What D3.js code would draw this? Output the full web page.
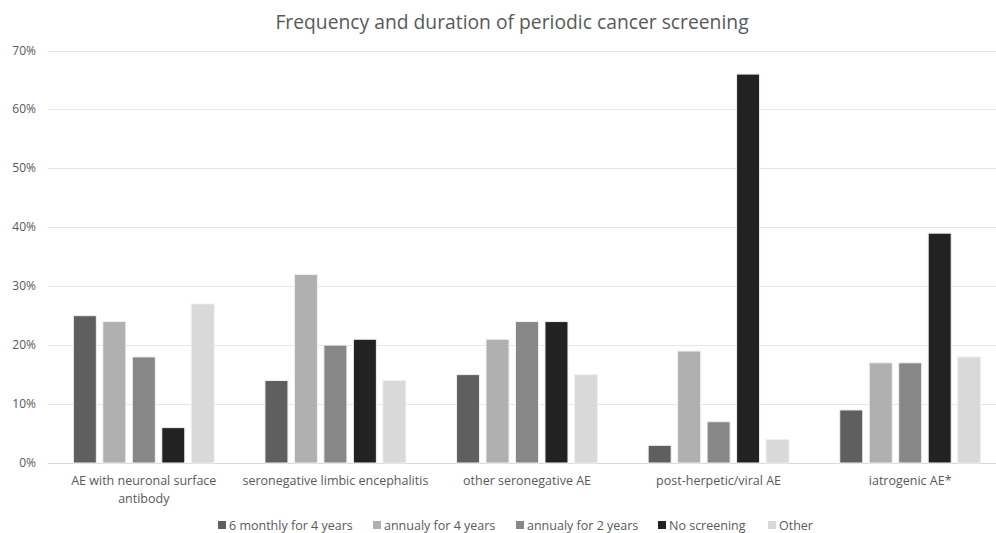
<!DOCTYPE html>
<html><head><meta charset="utf-8">
<script src="https://cdn.jsdelivr.net/npm/d3@7"></script>
<style>body{margin:0;background:#fff;} text{font-family:"Open Sans","Noto Sans",sans-serif;}</style>
</head><body><svg id="c" width="996" height="533"></svg>
<script>
const categories = [["AE with neuronal surface","antibody"],["seronegative limbic encephalitis"],["other seronegative AE"],["post-herpetic/viral AE"],["iatrogenic AE*"]];
const seriesNames = ["6 monthly for 4 years","annualy for 4 years","annualy for 2 years","No screening","Other"];
const seriesColors = ["#5f5f5f","#b0b0b0","#878787","#222222","#d9d9d9"];
const s6monthly4 = [25,14,15,3,9];
const sAnnual4 = [24,32,21,19,17];
const sAnnual2 = [18,20,24,7,17];
const sNone = [6,21,24,66,39];
const sOther = [27,14,15,4,18];
const yTicks = [0,10,20,30,40,50,60,70];
const values = [s6monthly4,sAnnual4,sAnnual2,sNone,sOther];

const svg = d3.select("#c");
const x0 = d3.scaleBand().domain(d3.range(categories.length)).range([48,1006]).paddingInner(0).paddingOuter(0);
const x1 = d3.scaleBand().domain(d3.range(seriesNames.length)).range([0,x0.bandwidth()]).paddingInner(0.22).paddingOuter(0.86);
const y = d3.scaleLinear().domain([0,70]).range([463,50.5]);

svg.append("text").attr("x",512).attr("y",29).attr("text-anchor","middle").attr("fill","#595959").style("font-size","19.3px").text("Frequency and duration of periodic cancer screening");

const g = svg.append("g");
g.selectAll("line.grid").data(yTicks).enter().append("line")
  .attr("x1",48).attr("x2",996).attr("y1",d=>Math.round(y(d))+0.5).attr("y2",d=>Math.round(y(d))+0.5)
  .attr("stroke",d=>d===0?"#d9d9d9":"#e6e6e6").attr("stroke-width",1);
g.selectAll("text.yt").data(yTicks).enter().append("text")
  .attr("x",36).attr("y",d=>y(d)+4).attr("text-anchor","end").attr("fill","#595959").style("font-size","12px").text(d=>d+"%");

categories.forEach((c,i)=>{
  values.forEach((arr,s)=>{
    g.append("rect").attr("x",x0(i)+x1(s)).attr("width",x1.bandwidth())
      .attr("y",y(arr[i])).attr("height",y(0)-y(arr[i]))
      .attr("fill",seriesColors[s]).attr("stroke","#f0f0f0").attr("stroke-width",1);
  });
  c.forEach((line,k)=>{
    g.append("text").attr("x",x0(i)+x0.bandwidth()/2).attr("y",485+k*18).attr("text-anchor","middle")
      .attr("fill","#595959").style("font-size","12.5px").text(line);
  });
});

const legX = [218,373,516,658,768];
const lg = svg.append("g");
seriesNames.forEach((n,s)=>{
  lg.append("rect").attr("x",legX[s]).attr("y",521).attr("width",8).attr("height",8).attr("fill",seriesColors[s]);
  lg.append("text").attr("x",legX[s]+11).attr("y",529.5).attr("fill","#595959").style("font-size","12.5px").text(n);
});
</script></body></html>
